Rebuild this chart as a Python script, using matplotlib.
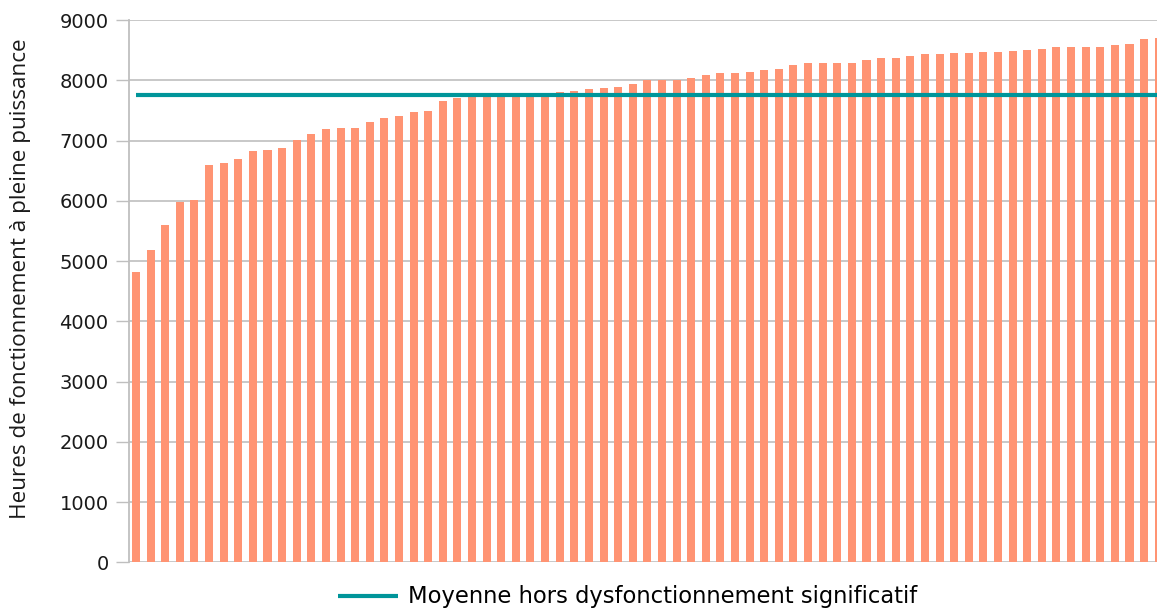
import matplotlib
matplotlib.use("Agg")
import matplotlib.pyplot as plt
import numpy as np

values = [4818, 5183, 5598, 5981, 6014, 6594, 6627, 6694, 6826, 6843,
          6876, 7009, 7109, 7192, 7209, 7209, 7309, 7375, 7408, 7475,
          7492, 7658, 7708, 7740, 7750, 7750, 7760, 7760, 7780, 7806,
          7823, 7856, 7873, 7889, 7939, 8006, 8006, 8006, 8039, 8089,
          8123, 8123, 8139, 8172, 8189, 8256, 8289, 8289, 8289, 8289,
          8340, 8372, 8372, 8405, 8439, 8439, 8455, 8455, 8472, 8472,
          8489, 8505, 8522, 8555, 8555, 8555, 8555, 8588, 8605, 8688,
          8705]
mean_value = 7750
yticks = [0, 1000, 2000, 3000, 4000, 5000, 6000, 7000, 8000, 9000]
legend_label = "Moyenne hors dysfonctionnement significatif"
ylabel = "Heures de fonctionnement à pleine puissance"

W, H = 1157, 611
fig = plt.figure(figsize=(W / 100, H / 100), dpi=100)
n = len(values)
x = np.arange(n)

left = 128.7 / W
right = (128.7 + 14.61 * n) / W
top = 1 - 20 / H
bottom = 1 - 562.3 / H
ax = fig.add_axes([left, bottom, right - left, top - bottom])

ax.bar(x, values, width=0.55, color="#FF9473", zorder=2)
line, = ax.plot(x, [mean_value] * n, color="#00959A", lw=3.0, zorder=3,
                solid_capstyle="butt", label=legend_label)

ax.set_xlim(-0.5, n - 0.5)
ax.set_ylim(0, 9000)
ax.set_yticks(yticks)
ax.set_yticklabels([str(v) for v in yticks], fontsize=14, family="DejaVu Sans", color="#1a1a1a")
ax.set_xticks([])
ax.grid(axis="y", color="#C4C4C4", lw=1.3, zorder=0)
ax.set_axisbelow(True)
for s in ["top", "right", "bottom"]:
    ax.spines[s].set_visible(False)
ax.spines["left"].set_color("#BFBFBF")
ax.spines["left"].set_linewidth(1.3)
ax.tick_params(axis="y", length=9.5, width=1.0, color="#BFBFBF", pad=5)
ax.tick_params(axis="x", length=0)

fig.text(21 / W, 1 - 279 / H, ylabel, rotation=90, ha="center", va="center",
         rotation_mode="anchor", fontsize=16.2, family="Open Sans", color="#1a1a1a")

fig.legend(handles=[line], loc="center left", bbox_to_anchor=(338 / W, 1 - 597 / H),
           frameon=False, prop={"family": "DejaVu Sans", "size": 16.3},
           handlelength=2.65, handletextpad=0.42, borderaxespad=0, borderpad=0)

fig.savefig("out.png", dpi=100)
